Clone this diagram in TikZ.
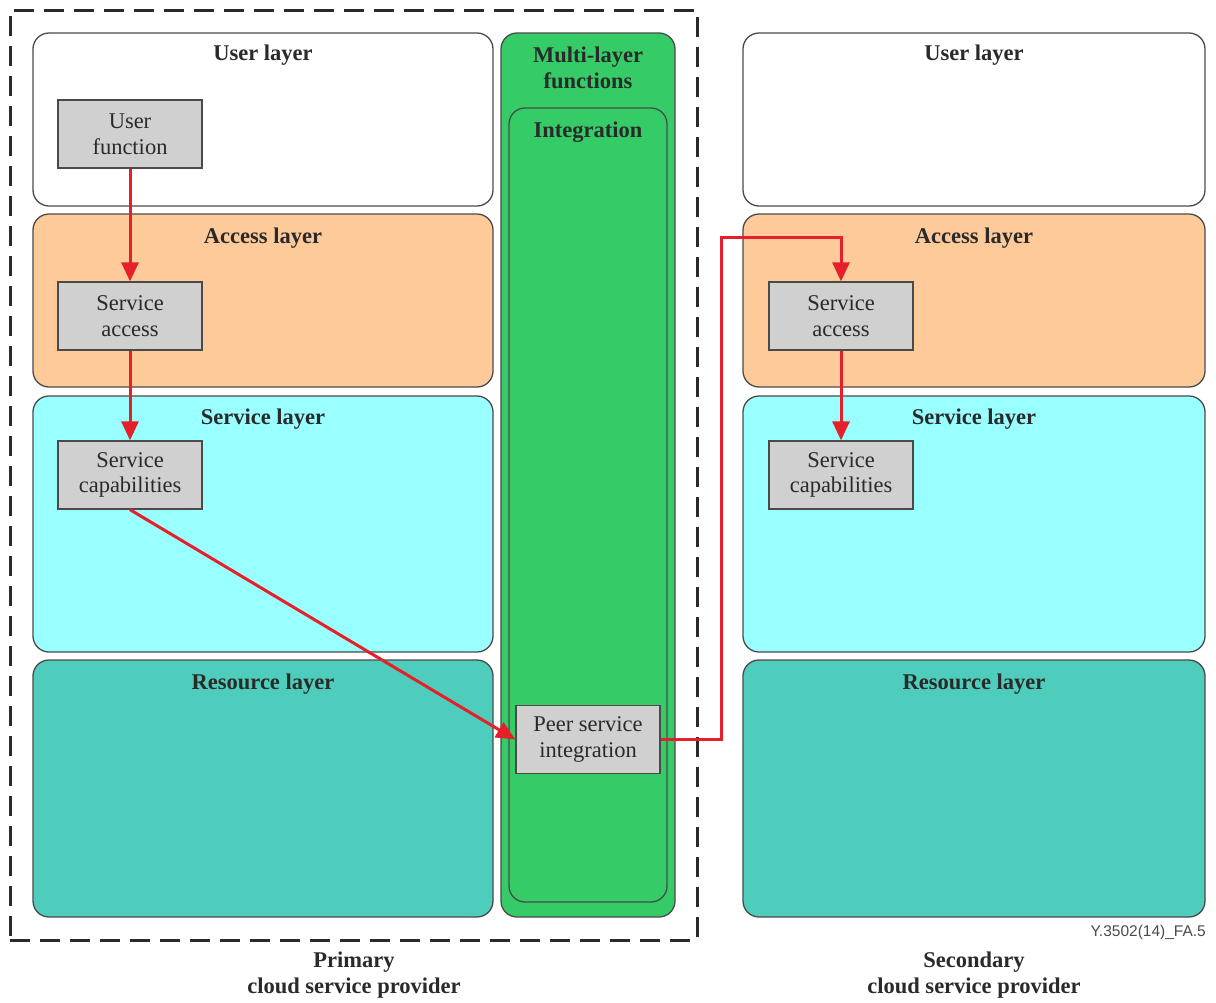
\documentclass[tikz,border=0pt]{standalone}
\usepackage{fontspec}
\setmainfont{Liberation Serif}
\newfontfamily\labelsans{Liberation Sans}
\usetikzlibrary{arrows.meta}
\definecolor{edgegray}{HTML}{4A4A4A}
\definecolor{inkgray}{HTML}{2A2A2A}
\definecolor{userfill}{HTML}{FFFFFF}
\definecolor{accessfill}{HTML}{FFCA99}
\definecolor{servicefill}{HTML}{99FFFF}
\definecolor{resourcefill}{HTML}{4ECDBD}
\definecolor{multifill}{HTML}{35CC68}
\definecolor{boxfill}{HTML}{D0D0D0}
\definecolor{flowred}{HTML}{E5202A}
\tikzset{
  layer/.style={draw=edgegray, line width=1.3pt, rounded corners=16pt, inner sep=0pt},
  title/.style={font=\fontsize{22.5}{25.5}\selectfont\bfseries, text=inkgray, align=center, inner sep=0pt},
  func/.style={draw=edgegray, line width=1.3pt, fill=boxfill, minimum width=144pt, minimum height=68pt,
    inner sep=0pt, align=center, text=inkgray, font=\fontsize{22.5}{25.5}\selectfont},
  flow/.style={draw=flowred, line width=3pt, -{Triangle[length=19pt,width=17pt]}},
}
\begin{document}
\begin{tikzpicture}[x=1pt, y=-1pt]
\useasboundingbox (0,0) rectangle (1216,1002);

% provider boundary of the primary cloud service provider
\node[draw=inkgray, line width=3pt, dash pattern=on 20pt off 10pt, minimum width=687pt, minimum height=930pt, inner sep=0pt]
  (primary) at (353.5,475) {};

% primary provider layers
\node[layer, fill=userfill, minimum width=460pt, minimum height=173pt] (puser) at (263,119.5) {};
\node[layer, fill=accessfill, minimum width=460pt, minimum height=173pt] (paccess) at (263,300.5) {};
\node[layer, fill=servicefill, minimum width=460pt, minimum height=256pt] (pservice) at (263,524) {};
\node[layer, fill=resourcefill, minimum width=460pt, minimum height=257pt] (presource) at (263,788.5) {};

% multi-layer functions column
\node[layer, fill=multifill, minimum width=174pt, minimum height=884pt] (multi) at (588,475) {};
\node[layer, fill=multifill, minimum width=158pt, minimum height=794pt] (integ) at (588,505) {};

% secondary provider layers
\node[layer, fill=userfill, minimum width=462pt, minimum height=173pt] (suser) at (974,119.5) {};
\node[layer, fill=accessfill, minimum width=462pt, minimum height=173pt] (saccess) at (974,300.5) {};
\node[layer, fill=servicefill, minimum width=462pt, minimum height=256pt] (sservice) at (974,524) {};
\node[layer, fill=resourcefill, minimum width=462pt, minimum height=257pt] (sresource) at (974,788.5) {};

% layer titles
\node[title] (tpuser) at (263,55) {User layer};
\node[title] (tpaccess) at (263,238) {Access layer};
\node[title] (tpservice) at (263,419) {Service layer};
\node[title] (tpresource) at (263,684) {Resource layer};
\node[title] (tmulti) at (588,68) {Multi-layer\\functions};
\node[title] (tinteg) at (588,132) {Integration};
\node[title] (tsuser) at (974,55) {User layer};
\node[title] (tsaccess) at (974,238) {Access layer};
\node[title] (tsservice) at (974,419) {Service layer};
\node[title] (tsresource) at (974,684) {Resource layer};

% functional blocks
\node[func] (uf) at (130,134) {User\\function};
\node[func] (psa) at (130,316) {Service\\access};
\node[func] (psc) at (130,475) {Service\\capabilities};
\node[func] (peer) at (588,739.5) {Peer service\\integration};
\node[func] (ssa) at (841,316) {Service\\access};
\node[func] (ssc) at (841,475) {Service\\capabilities};

% request flow
\coordinate (turn) at (721,237);
\draw[flow] (uf.south) -- (psa.north);
\draw[flow] (psa.south) -- (psc.north);
\draw[flow] (psc.south) -- (peer.west);
\draw[flow] (peer.east) -| (turn) -| (ssa.north);
\draw[flow] (ssa.south) -- (ssc.north);

% provider captions
\node[title] (capprimary) at (354,975) {Primary\\cloud service provider};
\node[title] (capsecondary) at (974,975) {Secondary\\cloud service provider};
\node[anchor=east, inner sep=0pt, text=edgegray, font=\labelsans\fontsize{15.5}{17}\selectfont] (figid) at (1206,932) {Y.3502(14)\_FA.5};
\end{tikzpicture}
\end{document}
